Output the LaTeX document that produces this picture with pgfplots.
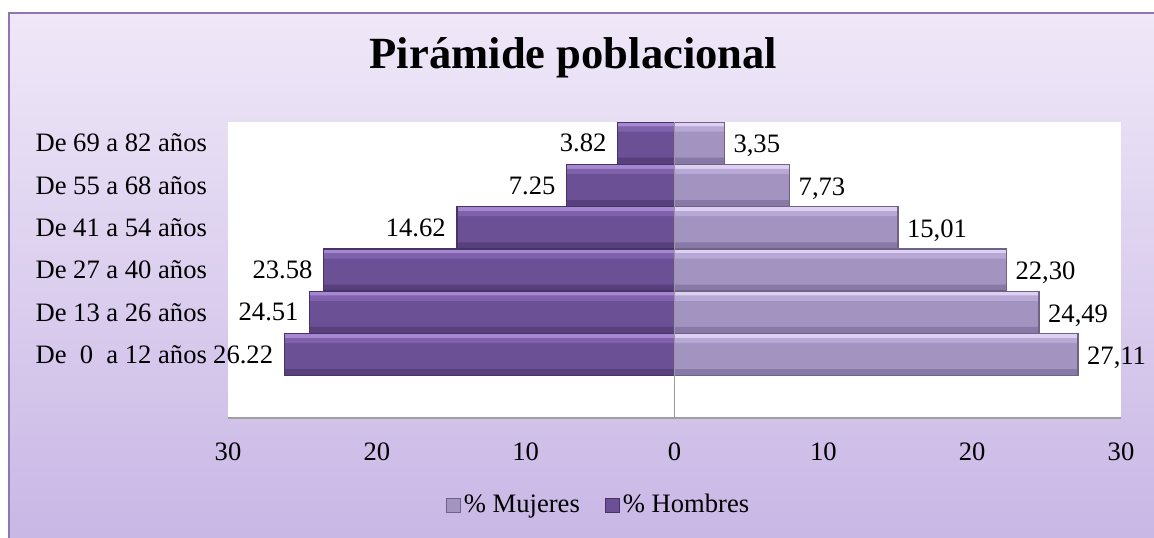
\documentclass[border=0pt]{standalone}
\usepackage{pgfplots}
\usepackage{pgfplotstable}
\pgfplotsset{compat=1.18}
\usepackage{fontspec}
\setmainfont{Liberation Serif}

\definecolor{bgtop}{RGB}{239,232,248}
\definecolor{bgbot}{RGB}{200,182,229}
\definecolor{framec}{RGB}{140,118,180}
\definecolor{hombres}{RGB}{108,80,150}
\definecolor{hombresHi}{RGB}{165,135,210}
\definecolor{hombresMid}{RGB}{128,98,172}
\definecolor{hombresLo}{RGB}{88,64,124}
\definecolor{hombresLine}{RGB}{70,52,100}
\definecolor{mujeres}{RGB}{163,147,193}
\definecolor{mujeresHi}{RGB}{222,208,242}
\definecolor{mujeresMid}{RGB}{184,168,214}
\definecolor{mujeresLo}{RGB}{135,120,165}
\definecolor{mujeresLine}{RGB}{110,98,135}

\newcommand{\lbl}{\fontsize{13.3}{15}\selectfont}

% position 0 = De 0 a 12 ... 5 = De 69 a 82
\pgfplotstableread{
pos val lbl
0 27.11 27,11
1 24.49 24,49
2 22.30 22,30
3 15.01 15,01
4 7.73 7,73
5 3.35 3,35
}\mujerestab

\pgfplotstableread{
pos val lbl
0 -26.22 26.22
1 -24.51 24.51
2 -23.58 23.58
3 -14.62 14.62
4 -7.25 7.25
5 -3.82 3.82
}\hombrestab

\begin{document}
\begin{tikzpicture}
\path[use as bounding box, clip] (0,0) rectangle (577pt,268.5pt);
\fill[white] (0,0) rectangle (577pt,268.5pt);
\shade[top color=bgtop, bottom color=bgbot] (4.5pt,-5pt) rectangle (585pt,262pt);
\draw[framec, line width=1pt] (4.5pt,-5pt) -- (4.5pt,262pt) -- (585pt,262pt);
\begin{axis}[
    at={(114pt,59.5pt)}, anchor=south west,
    scale only axis, width=446.5pt, height=148pt,
    xbar, bar width=21pt, bar shift=0pt,
    xmin=-30, xmax=30, ymin=-1.5, ymax=5.5,
    xtick={-30,-20,...,30},
    xticklabels={30,20,10,0,10,20,30},
    ytick={0,...,5},
    yticklabels={De \ 0 \ a 12 años, De 13 a 26 años, De 27 a 40 años,
                 De 41 a 54 años, De 55 a 68 años, De 69 a 82 años},
    axis background/.style={fill=white},
    separate axis lines,
    axis x line*=bottom, axis y line*=left,
    x axis line style={draw=gray!75, line width=0.8pt, -},
    y axis line style={draw=none},
    major tick length=0pt,
    tick style={draw=none},
    tick label style={font=\lbl},
    xticklabel style={anchor=center, yshift=-17pt},
    yticklabel style={anchor=east, xshift=-7pt},
    title={\fontsize{22.3}{26}\selectfont\bfseries Pirámide poblacional},
    title style={at={(axis description cs:0.3869,1.1757)}, anchor=center},
    legend style={at={(axis description cs:0.4155,-0.294)}, anchor=center,
                  draw=none, fill=none, legend columns=2, font=\lbl,
                  nodes={inner sep=1.5pt},
                  /tikz/every even column/.append style={column sep=11pt}},
    legend image code/.code={\draw[#1] (0pt,-3.5pt) rectangle (7pt,3.5pt);},
]
% Mujeres
\addplot[fill=mujeres, draw=mujeresLine, line width=0.5pt,
         nodes near coords, point meta=explicit symbolic,
         nodes near coords style={anchor=west, font=\lbl, black, xshift=1pt, yshift=-1.5pt}]
    table[x=val, y=pos, meta=lbl] {\mujerestab};
\addplot[forget plot, fill=mujeresHi, draw=none, bar width=2pt, bar shift=9.3pt]
    table[x=val, y=pos] {\mujerestab};
\addplot[forget plot, fill=mujeresMid, draw=none, bar width=2.5pt, bar shift=7pt]
    table[x=val, y=pos] {\mujerestab};
\addplot[forget plot, fill=mujeresLo, draw=none, bar width=3pt, bar shift=-8.8pt]
    table[x=val, y=pos] {\mujerestab};
\addplot[forget plot, fill=none, draw=mujeresLine, line width=0.6pt]
    table[x=val, y=pos] {\mujerestab};
% Hombres
\addplot[fill=hombres, draw=hombresLine, line width=0.5pt,
         nodes near coords, point meta=explicit symbolic,
         nodes near coords style={anchor=east, font=\lbl, black, xshift=-2pt}]
    table[x=val, y=pos, meta=lbl] {\hombrestab};
\addplot[forget plot, fill=hombresHi, draw=none, bar width=2pt, bar shift=9.3pt]
    table[x=val, y=pos] {\hombrestab};
\addplot[forget plot, fill=hombresMid, draw=none, bar width=2.5pt, bar shift=7pt]
    table[x=val, y=pos] {\hombrestab};
\addplot[forget plot, fill=hombresLo, draw=none, bar width=3pt, bar shift=-8.8pt]
    table[x=val, y=pos] {\hombrestab};
\addplot[forget plot, fill=none, draw=hombresLine, line width=0.6pt]
    table[x=val, y=pos] {\hombrestab};
\legend{\% Mujeres, \% Hombres}
\draw[gray!80, line width=0.8pt] (axis cs:0,-1.5) -- (axis cs:0,5.5);
\end{axis}
\end{tikzpicture}
\end{document}
